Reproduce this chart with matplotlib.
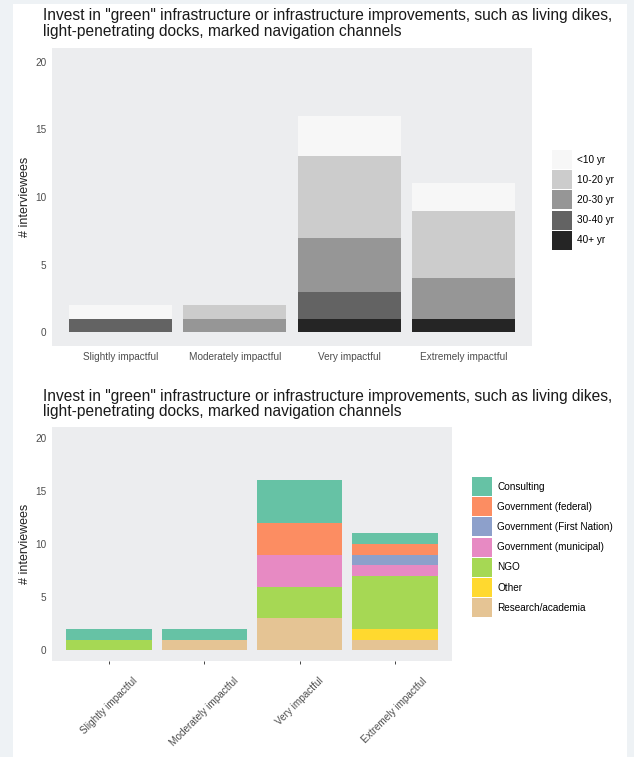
import matplotlib
matplotlib.use("Agg")
import matplotlib.pyplot as plt
from matplotlib.patches import Patch, Rectangle
import numpy as np

plt.rcParams["font.family"] = ["Liberation Sans", "DejaVu Sans"]

W, H = 634, 757

title = ("Invest in \"green\" infrastructure or infrastructure improvements, such as living dikes,\n"
         "light-penetrating docks, marked navigation channels")

categories = ["Slightly impactful", "Moderately impactful", "Very impactful", "Extremely impactful"]

# years of experience, stacked from the bottom
years = ["40+ yr", "30-40 yr", "20-30 yr", "10-20 yr", "<10 yr"]
years_counts = {
    "40+ yr":   [0, 0, 1, 1],
    "30-40 yr": [1, 0, 2, 0],
    "20-30 yr": [0, 1, 4, 3],
    "10-20 yr": [0, 1, 6, 5],
    "<10 yr":   [1, 0, 3, 2],
}
years_colors = {"<10 yr": "#f7f7f7", "10-20 yr": "#cccccc", "20-30 yr": "#969696",
                "30-40 yr": "#636363", "40+ yr": "#252525"}

# sector, stacked from the bottom
sectors = ["Research/academia", "Other", "NGO", "Government (municipal)",
           "Government (First Nation)", "Government (federal)", "Consulting"]
sector_counts = {
    "Research/academia":         [0, 1, 3, 1],
    "Other":                     [0, 0, 0, 1],
    "NGO":                       [1, 0, 3, 5],
    "Government (municipal)":    [0, 0, 3, 1],
    "Government (First Nation)": [0, 0, 0, 1],
    "Government (federal)":      [0, 0, 3, 1],
    "Consulting":                [1, 1, 4, 1],
}
sector_colors = {"Consulting": "#66c2a5", "Government (federal)": "#fc8d62",
                 "Government (First Nation)": "#8da0cb", "Government (municipal)": "#e78ac3",
                 "NGO": "#a6d854", "Other": "#ffd92f", "Research/academia": "#e5c494"}

PANEL = "#ecedef"
TXT = "#4d4d4d"
SMALL = 7.2


def px_axes(fig, x0, y0, x1, y1):
    return fig.add_axes([x0 / W, 1 - y1 / H, (x1 - x0) / W, (y1 - y0) / H])


def stacked(ax, order, counts, colors):
    x = np.arange(1, len(categories) + 1)
    bottom = np.zeros(len(categories))
    for name in order:
        vals = np.array(counts[name], dtype=float)
        ax.bar(x, vals, bottom=bottom, width=0.9, color=colors[name], linewidth=0)
        bottom += vals
    ax.set_xlim(0.4, 4.6)
    ax.set_ylim(-1, 21)
    ax.set_yticks([0, 5, 10, 15, 20])
    ax.set_facecolor(PANEL)
    for s in ax.spines.values():
        s.set_visible(False)
    ax.tick_params(axis="y", length=0, labelsize=SMALL, labelcolor=TXT, pad=4)
    ax.set_ylabel("# interviewees", fontsize=9, color="#222222", labelpad=3)
    return x


def legend(ax, names, colors, x0, y0):
    handles = [Patch(facecolor=colors[n], edgecolor="none") for n in names]
    ax.legend(handles, names, loc="upper left", bbox_to_anchor=(x0 / W, 1 - y0 / H),
              bbox_transform=fig.transFigure, frameon=False, fontsize=SMALL,
              handlelength=1.95, handleheight=2.55, labelspacing=0.12, handletextpad=0.55,
              borderpad=0, borderaxespad=0)


fig = plt.figure(figsize=(W / 100, H / 100), dpi=100)
fig.patch.set_facecolor("#eef2f5")
fig.add_artist(Rectangle((13 / W, 0), (627 - 13) / W, 1 - 4 / H, transform=fig.transFigure,
                         facecolor="white", edgecolor="none", zorder=0))

# top chart
ax1 = px_axes(fig, 52, 48, 532, 346)
x = stacked(ax1, years, years_counts, years_colors)
ax1.set_xticks(x)
ax1.set_xticklabels(categories)
ax1.tick_params(axis="x", length=0, labelsize=SMALL, labelcolor=TXT, pad=4)
fig.text(43 / W, 1 - 8 / H, title, fontsize=11.2, color="#1a1a1a", va="top", ha="left",
         linespacing=1.08)
legend(ax1, years[::-1], years_colors, 552, 150)

# bottom chart
ax2 = px_axes(fig, 52, 427, 452, 661)
x = stacked(ax2, sectors, sector_counts, sector_colors)
ax2.set_xticks(x)
ax2.set_xticklabels(categories, rotation=45, ha="center", va="top")
ax2.tick_params(axis="x", length=2.5, width=0.7, color="#444444", labelsize=SMALL,
                labelcolor=TXT, pad=8)
fig.text(43 / W, 1 - 389 / H, title, fontsize=11.2, color="#1a1a1a", va="top", ha="left",
         linespacing=1.0)
legend(ax2, sectors[::-1], sector_colors, 472, 477)

fig.savefig("out.png", dpi=100)
